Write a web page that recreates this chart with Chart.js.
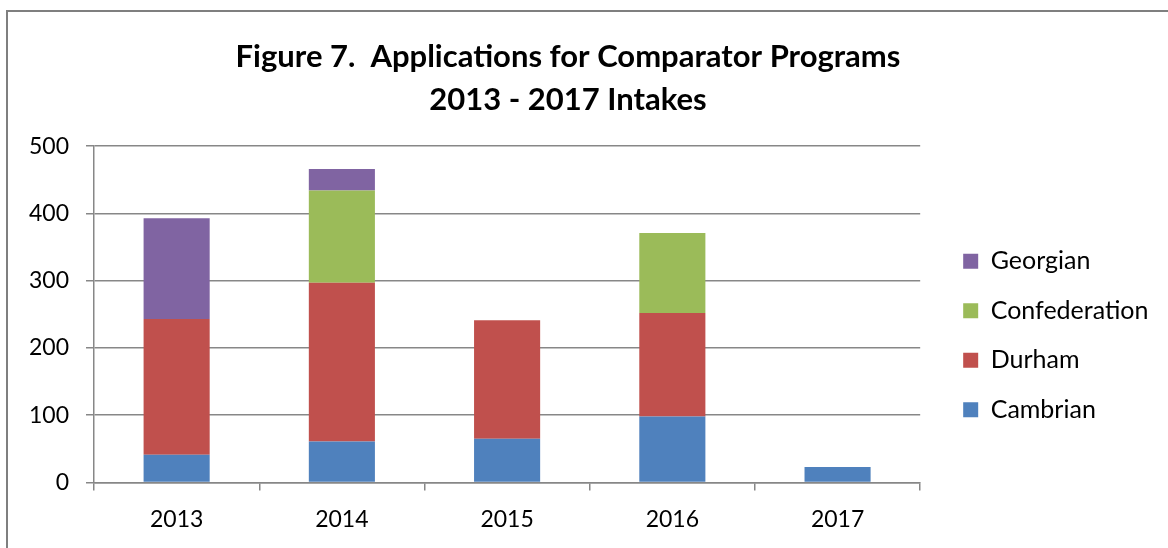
<!DOCTYPE html>
<html>
<head>
<meta charset="utf-8">
<script src="https://cdn.jsdelivr.net/npm/chart.js@4"></script>
<style>
  html, body { margin: 0; padding: 0; background: #fff; }
  .wrap { position: relative; width: 1168px; height: 548px; overflow: hidden; }
  .frame { position: absolute; left: 6px; top: 10px; width: 1300px; height: 700px;
           border-left: 2px solid #7f7f7f; border-top: 2px solid #7f7f7f; }
  canvas { position: absolute; left: 0; top: 0; }
</style>
</head>
<body>
<div class="wrap">
  <div class="frame"></div>
  <canvas id="chart" width="1168" height="548"></canvas>
</div>
<script>
const years = ['2013', '2014', '2015', '2016', '2017'];
const cambrian = [41, 61, 65, 98, 23];
const durham = [202, 236, 176, 154, null];
const confederation = [null, 137, null, 119, null];
const georgian = [150, 32, null, null, null];

const FONT = 'Lato, "Open Sans", sans-serif';
const GRID = '#878787';

// moves legend and title a little so they sit like the Excel original
const nudgeBoxes = {
    id: 'nudgeBoxes',
    afterLayout(chart, args, opts) {
        chart.legend.left += opts.legendX;
        chart.legend.right += opts.legendX;
        chart.legend.top += opts.legendY;
        chart.legend.bottom += opts.legendY;
        chart.titleBlock.left += opts.titleX;
        chart.titleBlock.right += opts.titleX;
    }
};

const ctx = document.getElementById('chart').getContext('2d');
new Chart(ctx, {
    type: 'bar',
    data: {
        labels: years,
        datasets: [
            { label: 'Cambrian', data: cambrian, backgroundColor: '#4F81BD' },
            { label: 'Durham', data: durham, backgroundColor: '#C0504D' },
            { label: 'Confederation', data: confederation, backgroundColor: '#9BBB59' },
            { label: 'Georgian', data: georgian, backgroundColor: '#8064A2' }
        ]
    },
    options: {
        responsive: false,
        animation: false,
        layout: { padding: { left: 12, right: 28, top: 35, bottom: 0 } },
        datasets: { bar: { barPercentage: 0.4, categoryPercentage: 1 } },
        scales: {
            x: {
                stacked: true,
                grid: { drawOnChartArea: false, drawTicks: true, offset: true, tickLength: 8, color: GRID, lineWidth: 1.5 },
                border: { color: GRID, width: 1.5 },
                ticks: { color: '#000', font: { family: FONT, size: 23 }, padding: 15 }
            },
            y: {
                stacked: true,
                min: 0,
                max: 500,
                ticks: { stepSize: 100, color: '#000', font: { family: FONT, size: 23 }, padding: 17 },
                grid: { color: GRID, lineWidth: 1.5, tickLength: 8 },
                border: { color: GRID, width: 1.5 }
            }
        },
        plugins: {
            nudgeBoxes: { legendX: 18.5, legendY: 44, titleX: -8 },
            title: {
                display: true,
                text: ['Figure 7.  Applications for Comparator Programs', '2013 - 2017 Intakes'],
                color: '#000',
                font: { family: FONT, size: 31, weight: 'bold', lineHeight: 1.39 },
                padding: { top: 0, bottom: 25 }
            },
            legend: {
                position: 'right',
                reverse: true,
                labels: {
                    color: '#000',
                    boxWidth: 15,
                    boxHeight: 15,
                    padding: 24.5,
                    font: { family: FONT, size: 25 }
                }
            },
            tooltip: { enabled: false }
        }
    },
    plugins: [nudgeBoxes]
});
</script>
</body>
</html>
